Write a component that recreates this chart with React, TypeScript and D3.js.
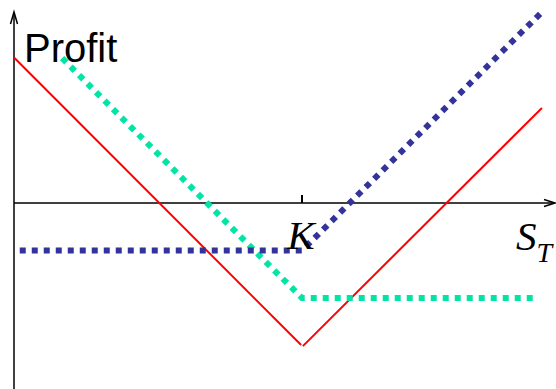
import React from "react";
import * as d3 from "d3";

// Underlying price S_T and profit values (strike K = 100)
const strike = 100;
const callS = [2, 100, 184];
const callProfit = [-16.5, -16.5, 67];
const putS = [16.7, 100, 181.3];
const putProfit = [50.3, -33, -33];
const straddleLeftS = [0, 99.7];
const straddleLeftProfit = [50.5, -49.3];
const straddleRightS = [100.3, 183.3];
const straddleRightProfit = [-49.7, 33];

const W = 556;
const H = 389;
const SERIF = "'Liberation Serif', 'Times New Roman', Times, serif";

export default function App() {
  const x = d3.scaleLinear().domain([0, 100]).range([14, 302]);
  const y = d3.scaleLinear().domain([0, 100]).range([203, -85]);
  const line = d3
    .line<[number, number]>()
    .x((d) => x(d[0]))
    .y((d) => y(d[1]));
  const zip = (a: number[], b: number[]) => a.map((v, i) => [v, b[i]] as [number, number]);

  const x0 = x(0);
  const y0 = y(0);
  const xTip = 555;
  const yTip = 12;

  return (
    <svg
      width={W}
      height={H}
      style={{ position: "absolute", left: 0, top: 0, background: "#fff" }}
    >
      {/* axes */}
      <line x1={x0} y1={H} x2={x0} y2={yTip + 1} stroke="#000" strokeWidth={1.5} />
      <path
        d={`M${x0 - 3.5},${yTip + 12} L${x0},${yTip} L${x0 + 3.5},${yTip + 12}`}
        fill="none"
        stroke="#000"
        strokeWidth={1.5}
      />
      <line x1={x0} y1={y0} x2={xTip - 1} y2={y0} stroke="#000" strokeWidth={1.5} />
      <path
        d={`M${xTip - 11},${y0 - 3.5} L${xTip},${y0} L${xTip - 11},${y0 + 3.5}`}
        fill="none"
        stroke="#000"
        strokeWidth={1.5}
      />
      <line x1={x(strike)} y1={y0} x2={x(strike)} y2={y0 - 8} stroke="#000" strokeWidth={2} />

      {/* straddle (red) */}
      <path d={line(zip(straddleLeftS, straddleLeftProfit)) || ""} fill="none" stroke="#ff0000" strokeWidth={2} />
      <path d={line(zip(straddleRightS, straddleRightProfit)) || ""} fill="none" stroke="#ff0000" strokeWidth={2} />

      {/* put (teal dotted) */}
      <path
        d={line(zip(putS, putProfit)) || ""}
        fill="none"
        stroke="#00e5a5"
        strokeWidth={6}
        strokeDasharray="6 6"
      />
      {/* call (navy dotted) */}
      <path
        d={line(zip(callS, callProfit)) || ""}
        fill="none"
        stroke="#333399"
        strokeWidth={6}
        strokeDasharray="6 6"
      />

      {/* labels */}
      <text
        x={x(strike) - 1}
        y={249}
        textAnchor="middle"
        style={{ fontFamily: SERIF, fontStyle: "italic", fontSize: 41 }}
      >
        K
      </text>
      <text x={516} y={250} style={{ fontFamily: SERIF, fontStyle: "italic", fontSize: 41 }}>
        S
        <tspan style={{ fontSize: 28 }} dy={12}>
          T
        </tspan>
      </text>
      <text x={24} y={62} style={{ fontFamily: "'Liberation Sans', Arial, sans-serif", fontSize: 40 }}>
        Profit
      </text>
    </svg>
  );
}
